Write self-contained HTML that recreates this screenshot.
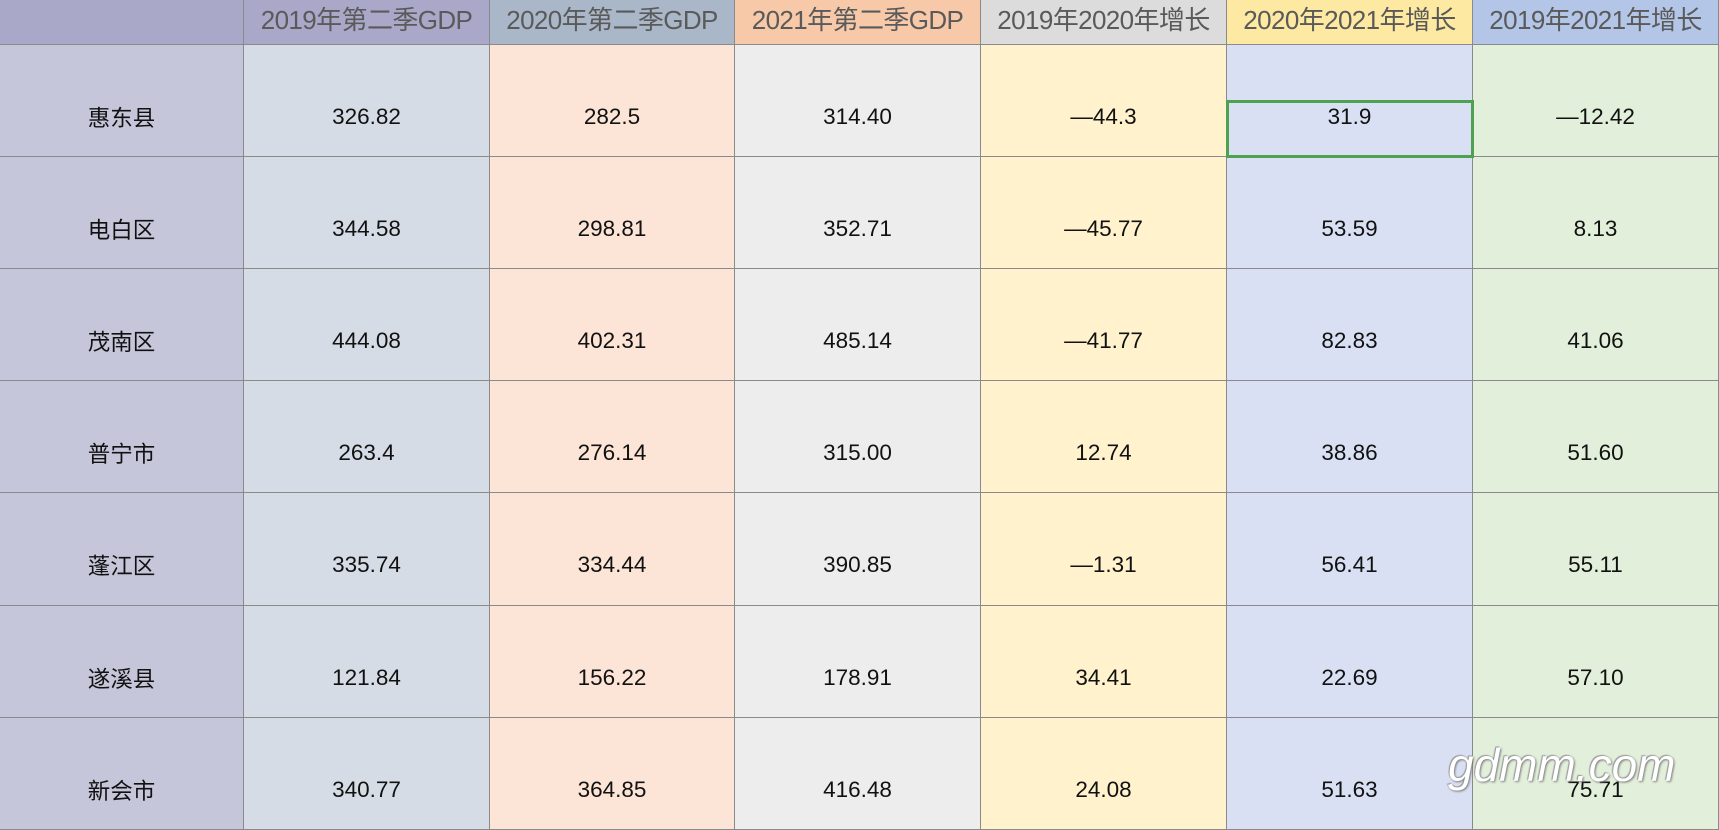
<!DOCTYPE html>
<html><head><meta charset="utf-8">
<style>
body{margin:0;width:1719px;height:830px;overflow:hidden;background:#fff;font-family:"Liberation Sans","Noto Sans CJK SC",sans-serif;}
#t{position:relative;width:1719px;height:830px;}
.c{position:absolute;box-sizing:border-box;border-right:1px solid #8a8a8a;border-bottom:1px solid #8a8a8a;display:flex;justify-content:center;white-space:nowrap;overflow:hidden;}
.h{align-items:center;font-size:26px;color:#5a5a5a;letter-spacing:-0.6px;padding-bottom:7px;}
.b{align-items:center;padding-top:32px;font-size:22.5px;color:#111;}
#sel{position:absolute;border:3px solid #4ea14e;box-sizing:border-box;}
#wm{position:absolute;left:1448px;top:738px;font-size:46px;font-style:italic;color:#fff;text-shadow:1px 1px 2px #777,-1px -1px 1px #999;font-family:"Liberation Sans",sans-serif;}
</style></head><body>
<div id="t"></div>
<script>
const headers=["","2019年第二季GDP","2020年第二季GDP","2021年第二季GDP","2019年2020年增长","2020年2021年增长","2019年2021年增长"];
const regions=["惠东县","电白区","茂南区","普宁市","蓬江区","遂溪县","新会市"];
const gdp2019=["326.82","344.58","444.08","263.4","335.74","121.84","340.77"];
const gdp2020=["282.5","298.81","402.31","276.14","334.44","156.22","364.85"];
const gdp2021=["314.40","352.71","485.14","315.00","390.85","178.91","416.48"];
const g1920=["—44.3","—45.77","—41.77","12.74","—1.31","34.41","24.08"];
const g2021=["31.9","53.59","82.83","38.86","56.41","22.69","51.63"];
const g1921=["—12.42","8.13","41.06","51.60","55.11","57.10","75.71"];
const hBg=["#a9a8c8","#aaa8c8","#a9b7c9","#f7c9a9","#dcdcdc","#fde9a2","#b4c6e7"];
const bBg=["#c5c6da","#d6dce5","#fce4d6","#ededed","#fff2cc","#dae0f3","#e2efda"];
const colX=[0,244,490,735,981,1227,1473,1719];
const headH=45,rowH=112.1;
const t=document.getElementById('t');
const cols=[regions,gdp2019,gdp2020,gdp2021,g1920,g2021,g1921];
const names=["region","gdp-2019","gdp-2020","gdp-2021","growth-2019-2020","growth-2020-2021","growth-2019-2021"];
function cell(cls,x,y,w,h,bg,txt){const d=document.createElement('div');d.className='c '+cls;d.style.left=x+'px';d.style.top=y+'px';d.style.width=w+'px';d.style.height=h+'px';d.style.background=bg;d.textContent=txt;t.appendChild(d);return d;}
headers.forEach((h,i)=>{const d=cell('h',colX[i],0,colX[i+1]-colX[i],headH,hBg[i],h);

});
regions.forEach((r,ri)=>{cols.forEach((col,ci)=>{const y=Math.round(headH+ri*rowH);const y2=Math.round(headH+(ri+1)*rowH);
const d=cell('b',colX[ci],y,colX[ci+1]-colX[ci],y2-y,bBg[ci],col[ri]);

});});
const s=document.createElement('div');s.id='sel';


s.style.left=(colX[5]-1)+'px';s.style.top=(headH+55)+'px';s.style.width=(colX[6]-colX[5]+2)+'px';s.style.height='58px';t.appendChild(s);
const w=document.createElement('div');w.id='wm';w.textContent='gdmm.com';


t.appendChild(w);
</script>
</body></html>
